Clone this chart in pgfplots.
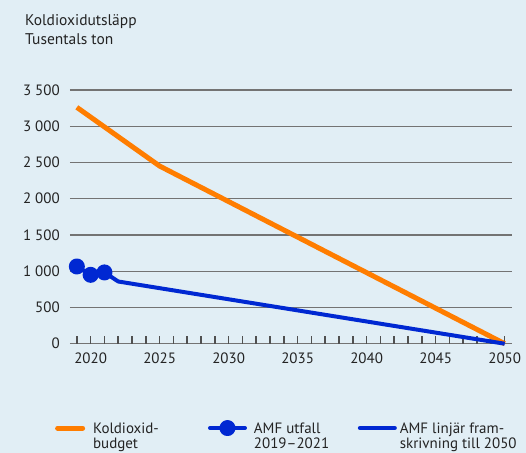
\documentclass[border=0pt]{standalone}
\usepackage{pgfplots}
\pgfplotsset{compat=1.18}
\usepackage{fontspec}
\setmainfont{PT Sans}
\definecolor{bgc}{RGB}{225,238,245}
\definecolor{orangec}{RGB}{255,125,0}
\definecolor{bluec}{RGB}{0,40,210}
\definecolor{gridc}{RGB}{115,115,115}
\definecolor{tickc}{RGB}{80,80,80}
\definecolor{txt}{RGB}{35,35,35}
\begin{document}
\fontsize{15bp}{18bp}\selectfont
\begin{tikzpicture}
\fill[bgc] (0,0) rectangle (526bp,453bp);
\node[anchor=base west, text=txt, inner sep=0pt] at (25bp,427bp) {\fontsize{15.5bp}{18bp}\selectfont Koldioxidutsläpp};
\node[anchor=base west, text=txt, inner sep=0pt] at (25bp,408bp) {\fontsize{15.5bp}{18bp}\selectfont Tusentals ton};
\begin{axis}[
  at={(70bp,109bp)}, anchor=south west,
  scale only axis, width=442bp, height=254bp,
  xmin=2018.5, xmax=2050.5, ymin=0, ymax=3500,
  clip=false,
  axis line style={draw=none},
  ytick={0,500,...,3500},
  yticklabels={0,500,1 000,1 500,2 000,2 500,3 000,3 500},
  ymajorgrids, grid style={gridc, line width=1.3bp},
  xtick={2020,2025,...,2050},
  xticklabels={2020,2025,2030,2035,2040,2045,2050},
  major tick length=0pt, minor tick length=0pt,
  tick style={draw=none},
  tick label style={text=txt, font=\fontsize{15bp}{18bp}\selectfont},
  yticklabel style={xshift=-5bp},
  xticklabel style={yshift=-4bp},
  legend columns=3,
  legend style={at={(-0.034,-0.30)}, anchor=north west, draw=none, fill=none,
    inner sep=0pt, column sep=0pt, cells={anchor=base west},
    nodes={inner sep=0pt, text=txt, font=\fontsize{15bp}{17bp}\selectfont}},
]
\addplot[ycomb, draw=tickc, line width=1.6bp, mark=none, forget plot]
  coordinates {(2019,100) (2020,100) (2021,100) (2022,100) (2023,100) (2024,100) (2025,100)
  (2026,100) (2027,100) (2028,100) (2029,100) (2030,100) (2031,100) (2032,100) (2033,100)
  (2034,100) (2035,100) (2036,100) (2037,100) (2038,100) (2039,100) (2040,100) (2041,100)
  (2042,100) (2043,100) (2044,100) (2045,100) (2046,100) (2047,100) (2048,100) (2049,100) (2050,100)};
\addplot[orangec, line width=5bp, line join=round,
  legend image code/.code={\draw[orangec, line width=5bp, line cap=round] (0bp,5bp) -- (25bp,5bp); \path (33bp,5bp);}]
  coordinates {(2019,3260) (2025,2450) (2050,0)};
\addlegendentry{\begin{tabular}[t]{@{}p{115bp}@{}}Koldioxid-\\[-2bp]budget\end{tabular}}
\addplot[bluec, line width=4bp, line join=round, mark=*, mark size=6bp, mark options={fill=bluec, draw=none},
  legend image code/.code={\draw[bluec, line width=4bp, line cap=round] (0bp,5bp) -- (35bp,5bp); \fill[bluec] (17.5bp,5bp) circle (6bp); \path (42bp,5bp);}]
  coordinates {(2019,1065) (2020,950) (2021,983)};
\addlegendentry{\begin{tabular}[t]{@{}p{104bp}@{}}AMF utfall\\[-2bp]2019--2021\end{tabular}}
\addplot[bluec, line width=4bp, line join=round,
  legend image code/.code={\draw[bluec, line width=4bp, line cap=round] (0bp,5bp) -- (35bp,5bp); \path (38bp,5bp);}]
  coordinates {(2021,983) (2022,858) (2050,0)};
\addlegendentry{\begin{tabular}[t]{@{}l@{}}AMF linjär fram-\\[-2bp]skrivning till 2050\end{tabular}}
\end{axis}
\end{tikzpicture}
\end{document}
